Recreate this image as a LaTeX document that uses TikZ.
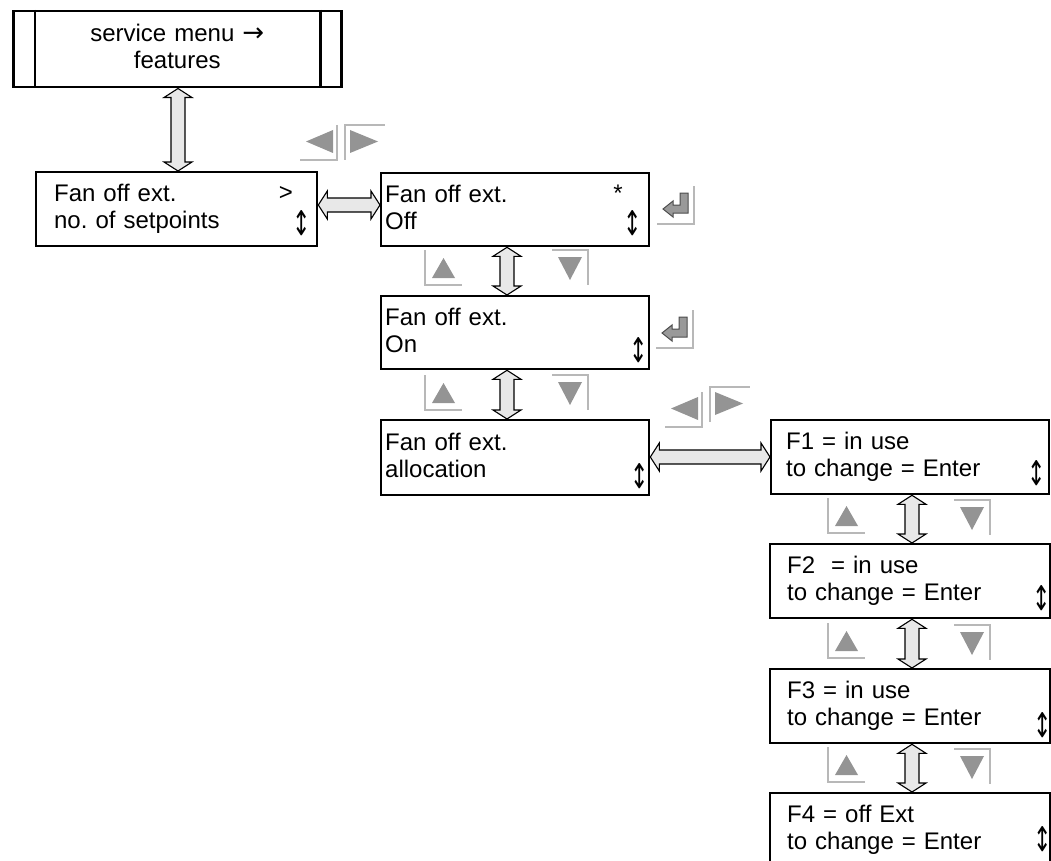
\documentclass[tikz,border=0pt]{standalone}
\usepackage{fontspec}
\usepackage{graphicx}
\setmainfont{Liberation Sans}
\newfontfamily\symfont{DejaVu Sans}
\usetikzlibrary{calc}
\frenchspacing
\newcommand\tallud{\scalebox{1}[1.55]{↕}}
\tikzset{
  every node/.style={font=\fontsize{24}{27}\selectfont, inner sep=0pt},
  menubox/.style={draw=black, line width=2.3pt, fill=white, anchor=north west,
    align=left, inner ysep=0pt, text height=18pt, text depth=33pt},
  topbox/.style={draw=black, line width=2.5pt, fill=white, anchor=north west,
    align=center, inner ysep=0pt, text height=18pt, text depth=33pt},
  barline/.style={draw=black, line width=2.3pt},
  updown/.style={anchor=base, font=\symfont\fontsize{22}{24}\selectfont},
  dblarrow/.style={draw=black, line width=1.1pt, fill=black!9, line join=miter},
  keyline/.style={draw=black!28, line width=1.6pt},
  keytri/.style={fill=black!42},
  enterfill/.style={fill=black!40, draw=black!70, line width=1pt},
  upkey/.pic={\draw[keyline] (0,-35)--(0,0)--(37,0); \fill[keytri] (7,-7)--(30,-7)--(18.5,-27)--cycle;},
  downkey/.pic={\draw[keyline] (-36,0)--(0,0)--(0,35); \fill[keytri] (-30,7)--(-6,7)--(-18,30)--cycle;},
  leftkey/.pic={\draw[keyline] (0,-35)--(0,0)--(-37,0); \fill[keytri] (-4,-30)--(-4,-7)--(-31,-18.5)--cycle;},
  rightkey/.pic={\draw[keyline] (0,35)--(0,0)--(40,0); \fill[keytri] (5,5)--(5,28)--(33,16.5)--cycle;},
  enterkey/.pic={\draw[keyline] (0,-38)--(0,0)--(-37,0);
    \filldraw[enterfill] (-6,-31)--(-6,-11)--(-21,-11)--(-21,-7)--(-31,-15)--(-21,-23)--(-21,-19)--(-14,-19)--(-14,-31)--cycle;}
}
\newcommand\vdblarrow[3]{%
  \draw[dblarrow] let \p1=(#1,0 |- #2.south), \p2=(#1,0 |- #3.north) in
  (\p1) -- ++(14pt,-9pt) -- ++(-7pt,0pt) -- (\x1+7pt,\y2+9pt) -- ++(7pt,0pt) -- (\p2)
  -- ++(-14pt,9pt) -- ++(7pt,0pt) -- (\x1-7pt,\y1-9pt) -- ++(-7pt,0pt) -- cycle;}
\newcommand\hdblarrow[3]{%
  \draw[dblarrow] let \p1=(#2.east |- 0,#1), \p2=(#3.west |- 0,#1) in
  (\p1) -- ++(9pt,14pt) -- ++(0pt,-7pt) -- (\x2-9pt,\y1+7pt) -- ++(0pt,7pt) -- (\p2)
  -- ++(-9pt,-14pt) -- ++(0pt,7pt) -- (\x1+9pt,\y1-7pt) -- ++(0pt,-7pt) -- cycle;}
\begin{document}
\begin{tikzpicture}[x=1pt,y=-1pt]
\useasboundingbox (0,0) rectangle (1051,861);
\clip (0,0) rectangle (1051,861);
% top box
\node[topbox, minimum width=328pt, minimum height=76pt, inner xsep=25pt, text width=278pt] (T) at (12,10) {service menu {\symfont\fontsize{26}{24}\selectfont →}\\features};
\draw[barline] ($(T.north west)+(23,0)$) -- ($(T.south west)+(23,0)$);
\draw[barline] ($(T.north east)+(-22,0)$) -- ($(T.south east)+(-22,0)$);
% menu boxes
\node[menubox, minimum width=281pt, minimum height=74pt, inner xsep=18pt, text width=245pt] (A) at (35,171) {Fan off ext.\\no. of setpoints};
\node[menubox, minimum width=268pt, minimum height=73pt, inner xsep=4pt, text width=260pt] (B) at (380,172) {Fan off ext.\\Off};
\node[menubox, minimum width=268pt, minimum height=73pt, inner xsep=4pt, text width=260pt] (C) at (380,295) {Fan off ext.\\On};
\node[menubox, minimum width=268pt, minimum height=75pt, inner xsep=4pt, text width=260pt] (D) at (380,419) {Fan off ext.\\allocation};
\node[menubox, minimum width=278pt, minimum height=74pt, inner xsep=15pt, text width=248pt] (F1) at (770,419) {F1 = in use\\to change = Enter};
\node[menubox, minimum width=280pt, minimum height=74pt, inner xsep=17pt, text width=246pt] (F2) at (769,543) {F2~ = in use\\to change = Enter};
\node[menubox, minimum width=280pt, minimum height=74pt, inner xsep=17pt, text width=246pt] (F3) at (769,668) {F3 = in use\\to change = Enter};
\node[menubox, minimum width=280pt, minimum height=74pt, inner xsep=17pt, text width=246pt] (F4) at (769,792) {F4 = off Ext\\to change = Enter};
% small symbols
\node[anchor=base] (Agt) at (286,200.5) {>};
\node[anchor=base] (Bst) at (618,201.5) {*};
\node[updown] (Aud) at (302,235) {\tallud};
\node[updown] (Bud) at (633,235) {\tallud};
\node[updown] (Cud) at (639,362) {\tallud};
\node[updown] (Dud) at (640,488) {\tallud};
\node[updown] (F1ud) at (1037,485) {\tallud};
\node[updown] (F2ud) at (1042,610) {\tallud};
\node[updown] (F3ud) at (1043,737) {\tallud};
\node[updown] (F4ud) at (1043,851) {\tallud};
% connectors
\vdblarrow{178}{T}{A}
\vdblarrow{507}{B}{C}
\vdblarrow{507}{C}{D}
\vdblarrow{912}{F1}{F2}
\vdblarrow{912}{F2}{F3}
\vdblarrow{912}{F3}{F4}
\hdblarrow{205}{A}{B}
\hdblarrow{457}{D}{F1}
% keys
\pic at (337,160) {leftkey};
\pic at (345,125) {rightkey};
\pic at (702,427) {leftkey};
\pic at (710,387) {rightkey};
\pic at (694,224) {enterkey};
\pic at (693,348) {enterkey};
\pic at (425,285) {upkey};
\pic at (425,410) {upkey};
\pic at (828,533) {upkey};
\pic at (828,658) {upkey};
\pic at (828,782) {upkey};
\pic at (588,250) {downkey};
\pic at (588,375) {downkey};
\pic at (990,500) {downkey};
\pic at (990,625) {downkey};
\pic at (990,749) {downkey};
\end{tikzpicture}
\end{document}
